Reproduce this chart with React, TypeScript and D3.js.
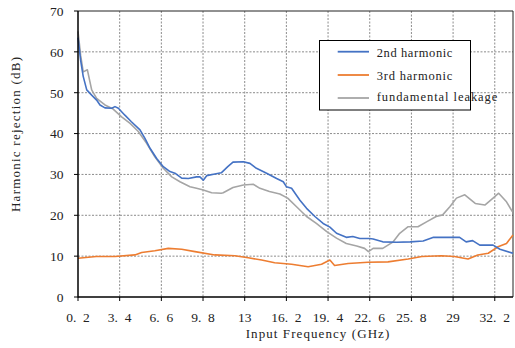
import React from "react";
import * as d3 from "d3";

const xTicks = [0.2, 3.4, 6.6, 9.8, 13, 16.2, 19.4, 22.6, 25.8, 29, 32.2];
const yTicks = [0, 10, 20, 30, 40, 50, 60, 70];

const freq2 = [0.2,0.4,0.6,0.87,1.25,1.63,1.89,2.27,2.79,3.04,3.3,3.8,4.3,4.96,5.34,5.73,6.24,6.75,7.26,7.64,8.16,8.67,9.3,9.56,9.82,10.08,10.71,11.2,11.7,12.1,12.9,13.4,13.9,14.68,15.45,15.96,16.2,16.6,17.24,17.75,18.39,19.02,19.54,20.05,20.8,21.3,21.84,22.6,22.86,23.6,24.66,25.7,26.7,27.5,28.5,29.5,30.0,30.5,31.05,32.07,32.6,33.5,33.6];
const harm2 = [63.5,58,54,50.7,49.4,48.2,47,46.3,46.2,46.6,46.2,44.5,42.9,40.9,38.8,36.4,33.9,31.9,30.7,30.3,29.1,29.0,29.4,29.4,28.6,29.7,30.1,30.4,31.9,33.0,33.1,32.7,31.5,30.3,29.0,28.2,27.0,26.6,23.7,21.7,19.7,18.0,17.1,15.6,14.6,14.8,14.3,14.3,14.2,13.5,13.4,13.5,13.7,14.6,14.6,14.6,13.5,13.8,12.7,12.7,11.7,10.8,10.7];

const freq3 = [0.2,1.6,3.04,4.57,5.09,6.1,7.13,8.16,9.18,10.7,12.25,13.27,14.3,15.3,16.6,17.87,18.9,19.54,19.9,20.94,22.47,24.0,25.55,26.6,28.1,29.1,30.15,30.9,31.7,32.45,33.1,33.6];
const harm3 = [9.5,9.9,9.9,10.3,10.9,11.3,11.9,11.7,11.1,10.3,10.1,9.6,9.05,8.4,8.0,7.4,8.0,9.05,7.7,8.2,8.5,8.6,9.3,9.9,10.1,9.9,9.3,10.3,10.7,12.3,13.1,15.2];

const freqL = [0.2,0.4,0.6,0.92,1.25,1.63,2.27,2.9,3.55,4.2,4.83,5.47,6.1,6.75,7.4,8.03,8.8,9.3,9.82,10.46,11.2,11.35,12.1,12.9,13.65,14.17,14.9,15.7,16.3,16.98,17.75,18.5,19.3,20.05,20.8,21.6,22.2,22.5,22.86,23.6,24.4,24.9,25.55,26.3,26.96,27.7,28.2,28.75,29.26,29.9,30.7,31.44,32.07,32.5,33.1,33.55];
const leak = [65,59.2,55.1,55.6,50.7,48.6,47,46,44.1,42.5,40.5,37.6,34.3,31.5,29.4,28.2,27.0,26.6,26.2,25.5,25.4,25.5,26.8,27.4,27.6,26.6,25.8,25.2,24.2,22.1,19.7,18.0,16.0,14.4,13.1,12.5,11.9,11.1,11.9,11.9,13.5,15.6,17.2,17.2,18.4,19.7,20.1,22.1,24.2,25.0,22.9,22.5,24.2,25.4,23.3,20.9];

const seriesNames = ["2nd harmonic", "3rd harmonic", "fundamental leakage"];
const seriesColors = ["#4472C4", "#ED7D31", "#A5A5A5"];

export default function App() {
  const W = 515, H = 348;
  const L = 78, R = 513, T = 11, B = 297;
  const x = d3.scaleLinear().domain([0.2, 33.6]).range([L, R]);
  const y = d3.scaleLinear().domain([0, 70]).range([B, T]);
  const line = d3.line<[number, number]>().x(d => x(d[0])).y(d => y(d[1]));
  const series = [
    d3.zip(freq2, harm2) as [number, number][],
    d3.zip(freq3, harm3) as [number, number][],
    d3.zip(freqL, leak) as [number, number][],
  ];
  const drawOrder = [2, 1, 0];
  const fmt = (v: number) => String(v).replace(".", ".\u2002");
  const serif: React.CSSProperties = { fontFamily: "\"Liberation Serif\", \"DejaVu Serif\", serif" };
  const legY = [51.7, 75, 98];
  const legTextY = [57, 80, 100.5];
  const legW = [75.7, 75.7, 120.6];
  return (
    <svg width={W} height={H} style={{ position: "absolute", left: 0, top: 0, background: "#fff" }}>
      <rect x={0} y={0} width={W} height={H} fill="#fff" />
      {yTicks.filter(t => t > 0 && t < 70).map(t => (
        <line key={"gy" + t} x1={L} x2={R} y1={y(t)} y2={y(t)} stroke="#8c8c8c" strokeWidth={1} strokeDasharray="2,1.5" />
      ))}
      {xTicks.filter((t, i) => i > 0).map(t => (
        <line key={"gx" + t} x1={x(t)} x2={x(t)} y1={T} y2={B} stroke="#8c8c8c" strokeWidth={1} strokeDasharray="2,1.5" />
      ))}
      <line x1={L} x2={R} y1={T} y2={T} stroke="#222" strokeWidth={1} />
      <line x1={R} x2={R} y1={T} y2={B} stroke="#222" strokeWidth={1} />
      {drawOrder.map(i => (
        <path key={i} d={line(series[i]) || ""} fill="none" stroke={seriesColors[i]} strokeWidth={1.6} strokeLinejoin="round" />
      ))}
      <line x1={L} x2={L} y1={T} y2={B + 0.5} stroke="#000" strokeWidth={1.5} />
      <line x1={L} x2={R} y1={B} y2={B} stroke="#000" strokeWidth={1.5} />
      {yTicks.map(t => (
        <g key={"yt" + t}>
          <line x1={L - 4} x2={L} y1={y(t)} y2={y(t)} stroke="#000" strokeWidth={1} />
          <text x={63.5} y={y(t)} dy="0.36em" textAnchor="end" style={serif} fontSize={13.5} fill="#222">{t}</text>
        </g>
      ))}
      {xTicks.map(t => (
        <g key={"xt" + t}>
          <line x1={x(t)} x2={x(t)} y1={B} y2={B + 4} stroke="#000" strokeWidth={1} />
          <text x={x(t)} y={321.5} textAnchor="middle" style={serif} fontSize={13.5} fill="#222">{fmt(t)}</text>
        </g>
      ))}
      <text x={317.5} y={338} textAnchor="middle" style={serif} fontSize={13} fill="#222" textLength={143.6} lengthAdjust="spacing">Input Frequency (GHz)</text>
      <text transform="translate(19.5,134.5) rotate(-90)" textAnchor="middle" style={serif} fontSize={13} fill="#222" textLength={155} lengthAdjust="spacing">Harmonic rejection (dB)</text>
      <rect x={319.5} y={40.5} width={151} height={69.5} fill="#fff" stroke="#000" strokeWidth={1} />
      {seriesNames.map((n, i) => (
        <g key={n}>
          <line x1={337.7} x2={369} y1={legY[i]} y2={legY[i]} stroke={seriesColors[i]} strokeWidth={1.8} />
          <text x={376.7} y={legTextY[i]} style={serif} fontSize={12.5} fill="#222" textLength={legW[i]} lengthAdjust="spacing">{n}</text>
        </g>
      ))}
    </svg>
  );
}
